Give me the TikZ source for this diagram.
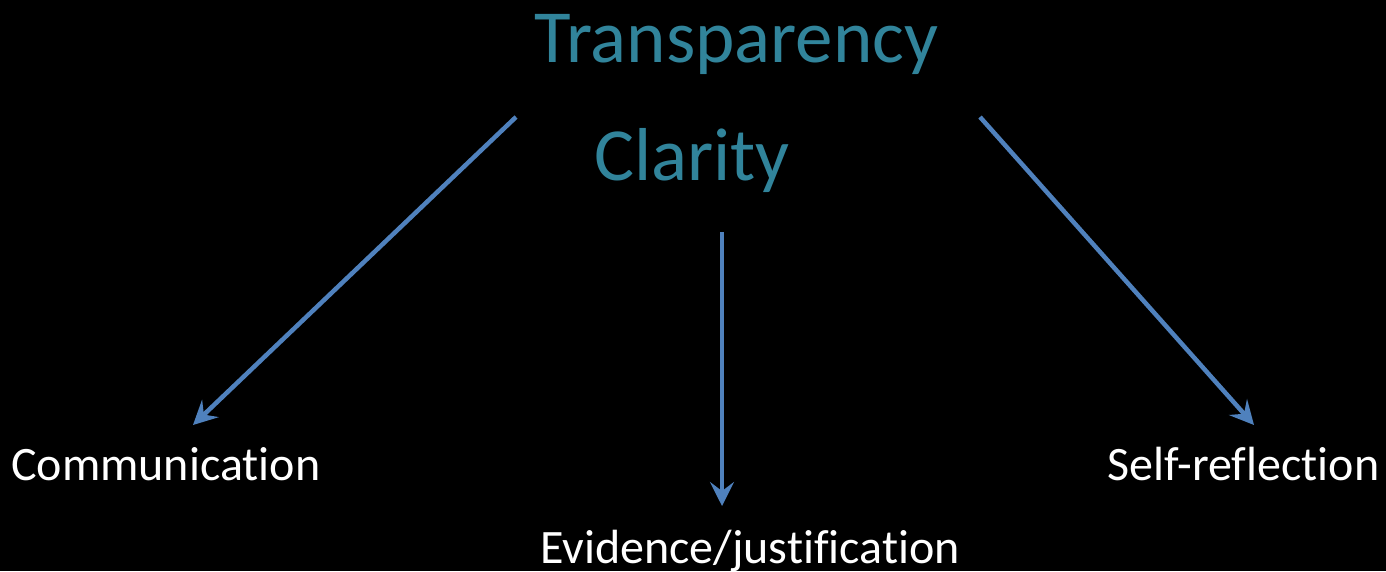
\documentclass[tikz,border=0pt]{standalone}
\usepackage{fontspec}
\setmainfont[RawFeature={-liga;-dlig;-clig}]{Carlito}
\usetikzlibrary{arrows.meta}
\definecolor{teal}{HTML}{31849B}
\definecolor{arrowblue}{HTML}{4F81BD}
\begin{document}
\begin{tikzpicture}[x=1pt,y=-1pt,
  title/.style={text=teal,font=\fontsize{75}{80}\selectfont,inner sep=0pt,anchor=base west},
  label/.style={text=white,font=\fontsize{48}{52}\selectfont,inner sep=0pt,anchor=base west},
  conn/.style={draw=arrowblue,line width=4.5pt,-{Stealth[length=24pt,width=24pt,inset=9pt]}}]
\fill[black] (0,0) rectangle (1386,571);
\useasboundingbox (0,0) rectangle (1386,571);
\node[title] (tr) at (534,62) {Transparency};
\node[title] (cl) at (594,180) {Clarity};
\node[label] (com) at (11,480) {Communication};
\node[label] (sr) at (1107,480) {Self-reflection};
\node[label] (ev) at (540,563) {Evidence/justification};
\coordinate (a1) at (516,117);
\coordinate (b1) at (193,425);
\coordinate (a2) at (722,232);
\coordinate (b2) at (722,506);
\coordinate (a3) at (980,117);
\coordinate (b3) at (1254,425);
\draw[conn] (a1) -- (b1);
\draw[conn] (a2) -- (b2);
\draw[conn] (a3) -- (b3);
\end{tikzpicture}
\end{document}
